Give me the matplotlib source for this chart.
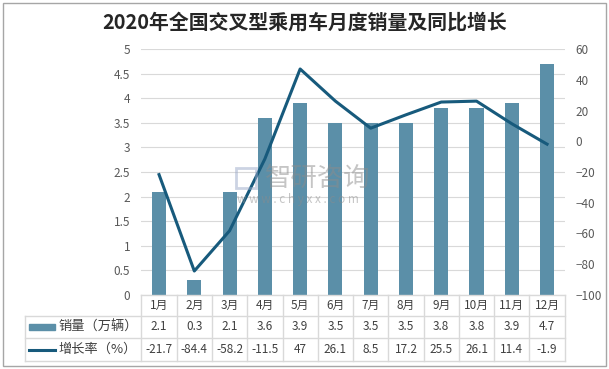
import numpy as np
import matplotlib.pyplot as plt
from matplotlib.transforms import blended_transform_factory
from matplotlib.patches import Rectangle
from matplotlib.lines import Line2D

plt.rcParams['font.family'] = ['Noto Sans CJK SC', 'DejaVu Sans']

months = ['1月', '2月', '3月', '4月', '5月', '6月', '7月', '8月', '9月', '10月', '11月', '12月']
sales = [2.1, 0.3, 2.1, 3.6, 3.9, 3.5, 3.5, 3.5, 3.8, 3.8, 3.9, 4.7]
growth = [-21.7, -84.4, -58.2, -11.5, 47, 26.1, 8.5, 17.2, 25.5, 26.1, 11.4, -1.9]
sales_label = '销量（万辆）'
growth_label = '增长率（%）'
title = '2020年全国交叉型乘用车月度销量及同比增长'

bar_color = '#5b8fa8'
line_color = '#175a7c'
grid_color = '#d9d9d9'
txt_color = '#404040'
tick_color = '#595959'

W, H = 609, 369
fig = plt.figure(figsize=(W / 100, H / 100), dpi=100)

# plot area in pixels
px_left, px_right, px_top, px_bot = 141.4, 564.7, 49, 295
ax = fig.add_axes([px_left / W, 1 - px_bot / H, (px_right - px_left) / W, (px_bot - px_top) / H])
x = np.arange(len(months))

ax.bar(x, sales, width=0.4, color=bar_color, zorder=2)
ax.set_xlim(-0.5, len(months) - 0.5)
ax.set_ylim(0, 5)
ax.set_yticks(np.arange(0, 5.01, 0.5))
ax.set_yticklabels(['0', '0.5', '1', '1.5', '2', '2.5', '3', '3.5', '4', '4.5', '5'])
ax.yaxis.grid(True, color=grid_color, linewidth=0.8, zorder=0)
ax.set_axisbelow(True)
ax.set_xticks([])
for s in ax.spines.values():
    s.set_visible(False)
ax.tick_params(axis='y', length=0, labelsize=8.5, labelcolor=tick_color, pad=8)

ax2 = ax.twinx()
ax2.plot(x, growth, color=line_color, linewidth=2.2, zorder=3)
ax2.set_ylim(-100, 60)
ax2.set_yticks(np.arange(-100, 61, 20))
for s in ax2.spines.values():
    s.set_visible(False)
ax2.tick_params(axis='y', length=0, labelsize=8.5, labelcolor=tick_color, pad=8)

# data table under the plot
def ay(py):
    return (px_bot - py) / (px_bot - px_top)

trans = blended_transform_factory(ax.transData, ax.transAxes)
row_y = [295, 316, 338, 361]
tbl_left = 25
line_kw = dict(color=grid_color, linewidth=1, clip_on=False)

# horizontal lines
for i, py in enumerate(row_y):
    x0 = px_left if i == 0 else tbl_left
    fig.add_artist(Line2D([x0 / W, px_right / W], [1 - py / H, 1 - py / H], **line_kw))
# vertical lines
for b in np.arange(-0.5, len(months), 1.0):
    ax.plot([b, b], [ay(295), ay(361)], transform=trans, **line_kw)
fig.add_artist(Line2D([tbl_left / W, tbl_left / W], [1 - 316 / H, 1 - 361 / H], **line_kw))

cy = [(row_y[i] + row_y[i + 1]) / 2 for i in range(3)]
for i in range(len(months)):
    ax.text(x[i], ay(cy[0]), months[i], transform=trans, ha='center', va='center', fontsize=8.5, color=txt_color)
    ax.text(x[i], ay(cy[1]), f'{sales[i]:g}', transform=trans, ha='center', va='center', fontsize=8.5, color=txt_color)
    ax.text(x[i], ay(cy[2]), f'{growth[i]:g}', transform=trans, ha='center', va='center', fontsize=8.5, color=txt_color)

# legend keys in the row headers
fig.add_artist(Rectangle((29 / W, 1 - (cy[1] + 3) / H), 26 / W, 6 / H, color=bar_color))
fig.add_artist(Line2D([29 / W, 55 / W], [1 - cy[2] / H, 1 - cy[2] / H], color=line_color, linewidth=2.2))
fig.text(58 / W, 1 - cy[1] / H, sales_label, ha='left', va='center', fontsize=9.5, color=txt_color)
fig.text(58 / W, 1 - cy[2] / H, growth_label, ha='left', va='center', fontsize=9.5, color=txt_color)

# title
fig.text(0.5, 1 - 22 / H, title, ha='center', va='center', fontsize=14.3, fontweight='bold', color='#262626')

# watermark
fig.add_artist(Rectangle((236 / W, 1 - 188 / H), 20 / W, 20 / H, fill=False, edgecolor='#9aa8c8', linewidth=2, alpha=0.5))
fig.text(265 / W, 1 - 178 / H, '智研咨询', ha='left', va='center', fontsize=19, color='#8c8c8c', alpha=0.5)
fig.text(237 / W, 1 - 199 / H, 'w w w . c h y x x . c o m', ha='left', va='center', fontsize=8.5, color='#8c8c8c', alpha=0.5)

# outer border
fig.add_artist(Rectangle((3 / W, 3 / H), (W - 6) / W, (H - 6) / H, fill=False, edgecolor='#a6a6a6', linewidth=1))

fig.savefig('out.png', dpi=100)
